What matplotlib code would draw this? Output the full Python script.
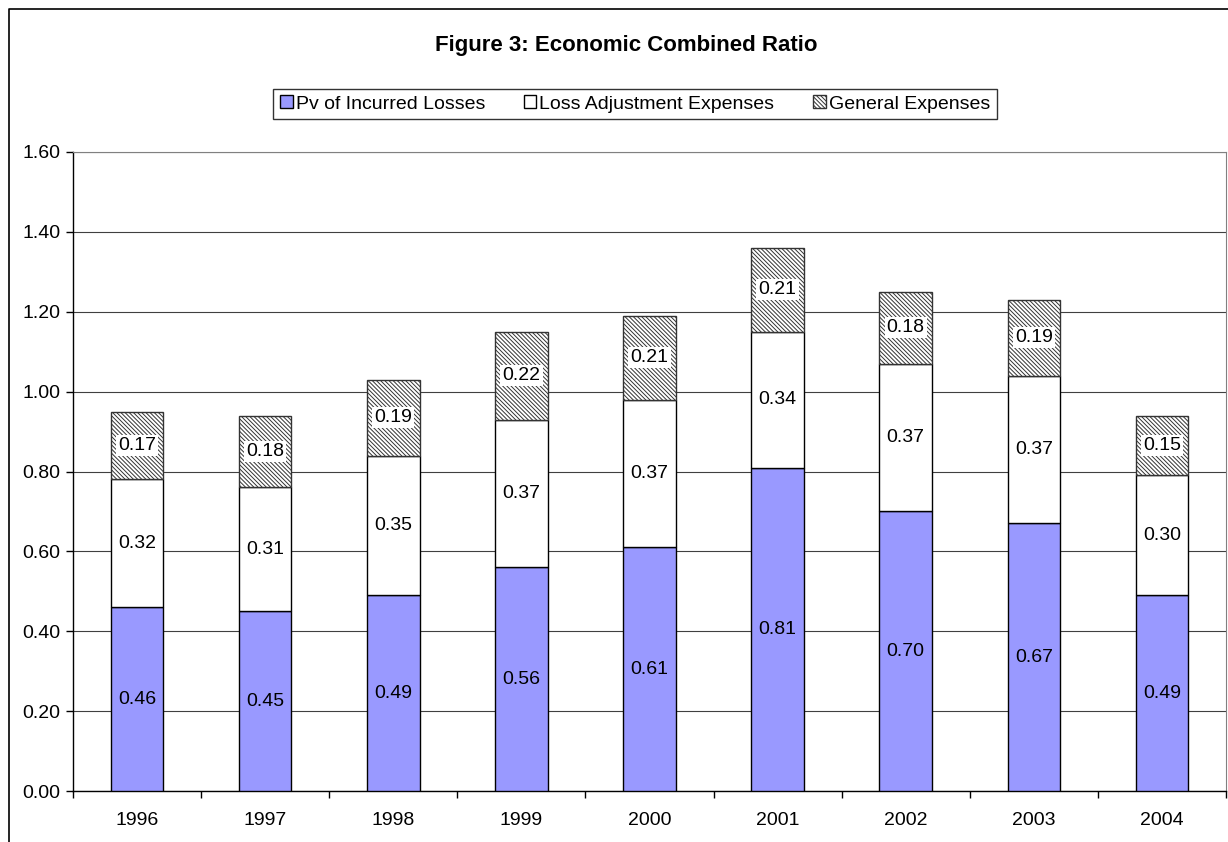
import numpy as np
import matplotlib.pyplot as plt
from matplotlib.lines import Line2D
from matplotlib.patches import Patch

plt.rcParams['font.family'] = ['Liberation Sans', 'DejaVu Sans']
plt.rcParams['hatch.linewidth'] = 0.7

years = ['1996', '1997', '1998', '1999', '2000', '2001', '2002', '2003', '2004']
pv_losses = [0.46, 0.45, 0.49, 0.56, 0.61, 0.81, 0.70, 0.67, 0.49]
loss_adj = [0.32, 0.31, 0.35, 0.37, 0.37, 0.34, 0.37, 0.37, 0.30]
general = [0.17, 0.18, 0.19, 0.22, 0.21, 0.21, 0.18, 0.19, 0.15]

W, H = 1228, 842
fig = plt.figure(figsize=(W / 100, H / 100), dpi=100)
ax = fig.add_axes([73 / W, 1 - 791 / H, (1226 - 73) / W, (791 - 152) / H])

x = np.arange(len(years))
pv = np.array(pv_losses)
la = np.array(loss_adj)
ge = np.array(general)
bw = 0.41
hatch = '\\' * 8
fs = 14

ax.bar(x, pv, bw, color='#9999ff', edgecolor='black', linewidth=1, zorder=3)
ax.bar(x, la, bw, bottom=pv, color='white', edgecolor='black', linewidth=1, zorder=3)
ax.bar(x, ge, bw, bottom=pv + la, color='white', edgecolor='#333333',
       hatch=hatch, linewidth=1, zorder=3)

# value labels in the middle of each segment
box = dict(facecolor='white', edgecolor='none', pad=1.5)
for i in range(len(years)):
    ax.text(x[i], pv[i] / 2, f'{pv[i]:.2f}', ha='center', va='center',
            fontsize=fs, zorder=5)
    ax.text(x[i], pv[i] + la[i] / 2, f'{la[i]:.2f}', ha='center', va='center',
            fontsize=fs, zorder=5)
    ax.text(x[i], pv[i] + la[i] + ge[i] / 2, f'{ge[i]:.2f}', ha='center', va='center',
            fontsize=fs, zorder=5, bbox=box)

ax.set_xlim(-0.5, len(years) - 0.5)
ax.set_ylim(0, 1.6)
ax.set_yticks(np.arange(0, 1.61, 0.2))
ax.set_yticklabels([f'{v:.2f}' for v in np.arange(0, 1.61, 0.2)])
ax.set_xticks(x)
ax.set_xticklabels(years)
ax.set_xticks(np.arange(-0.5, len(years)), minor=True)
ax.tick_params(axis='x', which='major', length=0, pad=15, labelsize=fs)
ax.tick_params(axis='x', which='minor', length=5, width=1, direction='out')
ax.tick_params(axis='y', length=5, width=1, direction='out', pad=4, labelsize=fs)

ax.grid(axis='y', color='#404040', linewidth=0.8, zorder=0)
ax.set_axisbelow(True)
for s in ['top', 'right']:
    ax.spines[s].set_color('#808080')
for s in ['left', 'bottom']:
    ax.spines[s].set_color('black')
    ax.spines[s].set_linewidth(1)

fig.text(626 / W, 1 - 45 / H, 'Figure 3: Economic Combined Ratio', ha='center',
         va='center', fontsize=16, fontweight='bold')

handles = [Patch(facecolor='#9999ff', edgecolor='black'),
           Patch(facecolor='white', edgecolor='black'),
           Patch(facecolor='white', edgecolor='#333333', hatch=hatch)]
leg = fig.legend(handles, ['Pv of Incurred Losses', 'Loss Adjustment Expenses', 'General Expenses'],
                 loc='center', bbox_to_anchor=(635 / W, 1 - 104 / H), ncol=3, fontsize=fs,
                 frameon=True, fancybox=False, edgecolor='black', handlelength=0.65,
                 handleheight=0.65, handletextpad=0.15, columnspacing=2.0, borderpad=0.35)
leg.get_frame().set_linewidth(1)

# outer chart border (open on the right and bottom)
fig.add_artist(Line2D([9 / W, 9 / W, 1], [0, 1 - 9 / H, 1 - 9 / H],
                      transform=fig.transFigure, color='black', linewidth=1.2))

fig.savefig('out.png', dpi=100)
